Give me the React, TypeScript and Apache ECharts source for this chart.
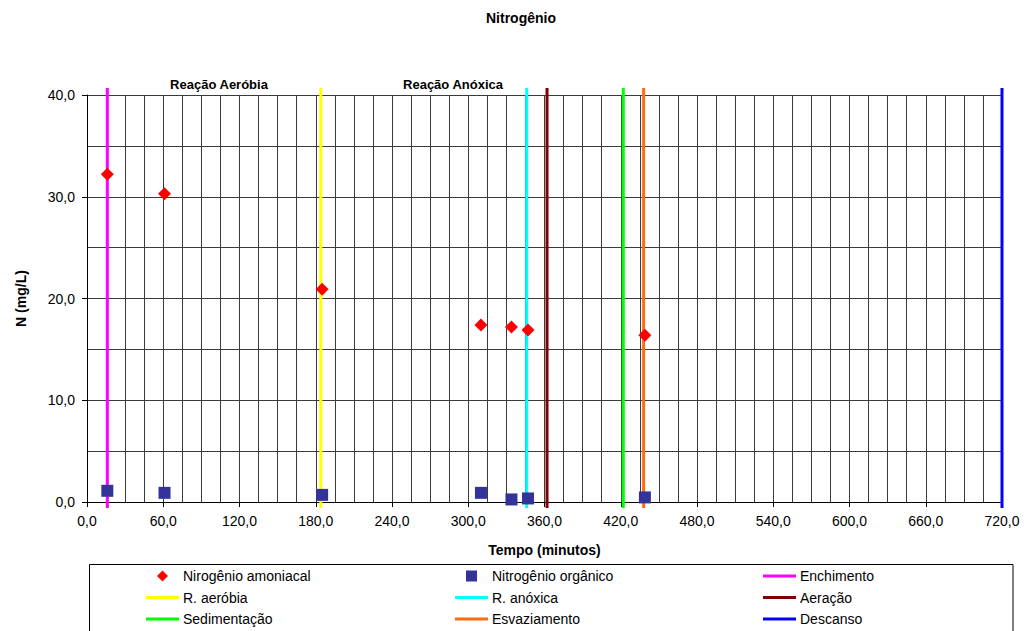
import React, { useEffect, useRef } from "react";
import * as echarts from "echarts";

const FONT = "'Liberation Sans', Arial, sans-serif";

// Nitrogênio amoniacal: [tempo (min), N (mg/L)]
const amoniacal: [number, number][] = [
  [16, 32.2],
  [61, 30.3],
  [185, 20.9],
  [310, 17.4],
  [334, 17.2],
  [347, 16.9],
  [439, 16.4],
];

// Nitrogênio orgânico
const organico: [number, number][] = [
  [16, 1.1],
  [61, 0.9],
  [185, 0.7],
  [310, 0.9],
  [334, 0.25],
  [347, 0.35],
  [439, 0.45],
];

// Phase markers (vertical lines) at time in minutes
const phaseNames = [
  "Enchimento",
  "R. aeróbia",
  "R. anóxica",
  "Aeração",
  "Sedimentação",
  "Esvaziamento",
  "Descanso",
];
const phaseTimes = [16, 184, 346, 362, 422, 438, 720];
const phaseColors = [
  "#FF00FF",
  "#FFFF00",
  "#00FFFF",
  "#800000",
  "#00FF00",
  "#FF6A13",
  "#0000FF",
];
const LINE_Y_BOTTOM = -0.6;
const LINE_Y_TOP = 40.7;

const AMON = "Nirogênio amoniacal";
const ORG = "Nitrogênio orgânico";

// legend layout: rows x columns
const legendRows = [
  [AMON, ORG, "Enchimento"],
  ["R. aeróbia", "R. anóxica", "Aeração"],
  ["Sedimentação", "Esvaziamento", "Descanso"],
];

// legend icons padded to a 33x11 box so the marker keeps its shape
const DIAMOND_ICON = "path://M0,0L0,0M33,11L33,11M16.5,0L22,5.5L16.5,11L11,5.5Z";
const SQUARE_ICON = "path://M0,0L0,0M33,11L33,11M11,0L22,0L22,11L11,11Z";

const fmt = (v: number) => v.toFixed(1).replace(".", ",");

export default function App() {
  const ref = useRef<HTMLDivElement>(null);
  useEffect(() => {
    if (!ref.current) return;
    const chart = echarts.init(ref.current, null, { renderer: "svg" });
    const gridColor = "#3a3a3a";
    const lineSeries = phaseNames.map((name, i) => ({
      name,
      type: "line",
      data: [
        [phaseTimes[i], LINE_Y_BOTTOM],
        [phaseTimes[i], LINE_Y_TOP],
      ],
      symbol: "none",
      clip: false,
      lineStyle: { color: phaseColors[i], width: 3 },
      itemStyle: { color: phaseColors[i] },
      z: 3,
    }));
    const colLefts = [146, 455, 763];
    const rowCenters = [576, 597.5, 619];
    const legends: any[] = [];
    legendRows.forEach((row, r) => {
      row.forEach((name, c) => {
        const isScatter = name === AMON || name === ORG;
        legends.push({
          orient: "horizontal",
          left: colLefts[c],
          top: rowCenters[r] - 8,
          itemWidth: 33,
          itemHeight: isScatter ? 11 : 3,
          itemGap: 5,
          symbolKeepAspect: false,
          padding: 0,
          selectedMode: false,
          itemStyle: { opacity: 1 },
          data: [
            {
              name,
              icon: isScatter ? (name === AMON ? DIAMOND_ICON : SQUARE_ICON) : "rect",
            },
          ],
          textStyle: { fontFamily: FONT, fontSize: 14, color: "#000", lineHeight: 16, padding: [0, 0, 0, -1] },
        });
      });
    });
    chart.setOption({
      animation: false,
      textStyle: { fontFamily: FONT, color: "#000" },
      title: {
        text: "Nitrogênio",
        left: 516,
        textAlign: "center",
        top: 6,
        textStyle: { fontFamily: FONT, fontSize: 14, fontWeight: "bold", color: "#000" },
      },
      grid: { left: 87, right: 30, top: 95, bottom: 129, containLabel: false },
      xAxis: {
        type: "value",
        min: 0,
        max: 720,
        interval: 60,
        name: "Tempo (minutos)",
        nameLocation: "middle",
        nameGap: 41,
        nameTextStyle: { fontFamily: FONT, fontSize: 14, fontWeight: "bold", color: "#000" },
        axisLine: { show: true, onZero: false, lineStyle: { color: "#000", width: 1 } },
        axisTick: { show: true, length: 5, lineStyle: { color: "#000" } },
        axisLabel: { formatter: fmt, fontSize: 14, color: "#000", margin: 12, fontFamily: FONT },
        splitLine: { show: true, lineStyle: { color: gridColor, width: 1 } },
        minorTick: { show: false, splitNumber: 4 },
        minorSplitLine: { show: true, lineStyle: { color: gridColor, width: 1 } },
      },
      yAxis: {
        type: "value",
        min: 0,
        max: 40,
        interval: 10,
        name: "N (mg/L)",
        nameLocation: "middle",
        nameGap: 59,
        nameTextStyle: { fontFamily: FONT, fontSize: 14, fontWeight: "bold", color: "#000" },
        axisLine: { show: true, lineStyle: { color: "#000", width: 1 } },
        axisTick: { show: true, length: 5, lineStyle: { color: "#000" } },
        axisLabel: { formatter: fmt, fontSize: 14, color: "#000", margin: 12, fontFamily: FONT },
        splitLine: { show: true, lineStyle: { color: gridColor, width: 1 } },
        minorTick: { show: false, splitNumber: 2 },
        minorSplitLine: { show: true, lineStyle: { color: gridColor, width: 1 } },
      },
      legend: legends,
      graphic: [
        {
          type: "rect",
          shape: { x: 89.5, y: 564.5, width: 923.5, height: 100 },
          style: { fill: "#fff", stroke: "#000", lineWidth: 1 },
          z: 0,
          silent: true,
        },
        {
          type: "text",
          x: 219,
          y: 84,
          style: {
            text: "Reação Aeróbia",
            fontFamily: FONT,
            fontSize: 13,
            fontWeight: "bold",
            fill: "#000",
            align: "center",
            verticalAlign: "middle",
          },
        },
        {
          type: "text",
          x: 453,
          y: 84,
          style: {
            text: "Reação Anóxica",
            fontFamily: FONT,
            fontSize: 13,
            fontWeight: "bold",
            fill: "#000",
            align: "center",
            verticalAlign: "middle",
          },
        },
      ],
      series: [
        ...lineSeries,
        {
          name: AMON,
          type: "scatter",
          data: amoniacal,
          symbol: "diamond",
          symbolSize: 13,
          itemStyle: { color: "#FF0000", opacity: 1 },
          z: 5,
        },
        {
          name: ORG,
          type: "scatter",
          data: organico,
          symbol: "rect",
          symbolSize: 12,
          itemStyle: { color: "#333399", opacity: 1 },
          z: 5,
        },
      ],
    });
    return () => chart.dispose();
  }, []);
  return (
    <div
      ref={ref}
      style={{ position: "absolute", left: 0, top: 0, width: 1032, height: 631, background: "#fff" }}
    />
  );
}
